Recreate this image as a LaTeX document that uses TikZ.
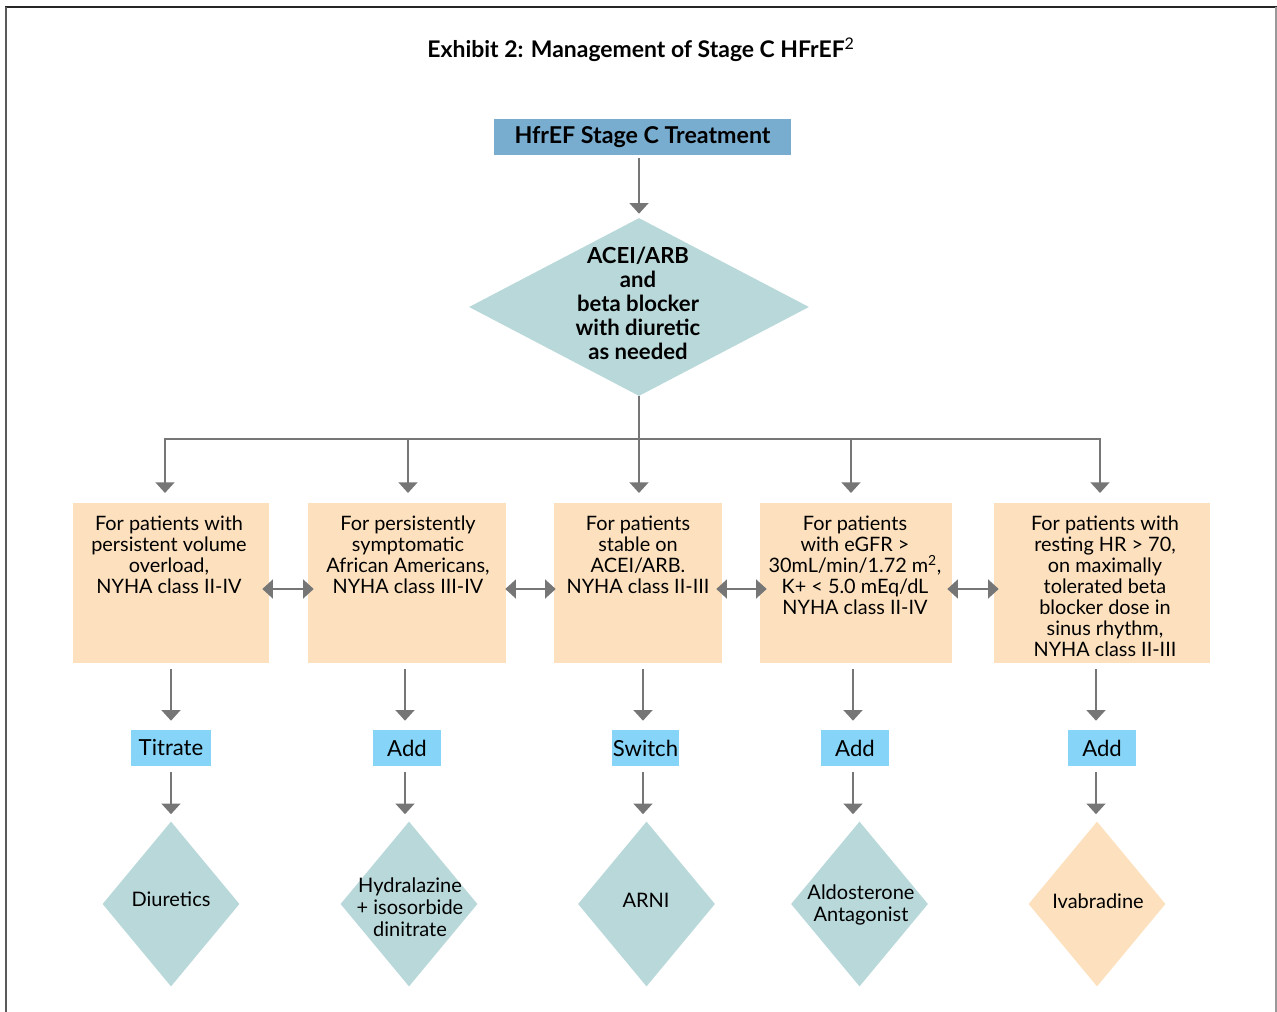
\documentclass[tikz,border=0pt]{standalone}
\usepackage{fontspec}
\setmainfont{Lato}
\usetikzlibrary{shapes.geometric,arrows.meta,calc}
\definecolor{headblue}{HTML}{79ADD0}
\definecolor{teal}{HTML}{B9D8DA}
\definecolor{peach}{HTML}{FDE1BF}
\definecolor{tagblue}{HTML}{86D4F7}
\definecolor{conngray}{HTML}{767676}
\begin{document}
\begin{tikzpicture}[x=0.75pt,y=-0.75pt,
  head/.style={rectangle,fill=headblue,inner sep=0,minimum width=222.75pt,minimum height=27pt,
    font=\fontsize{17.4}{20}\selectfont\bfseries},
  choice/.style={diamond,fill=teal,inner sep=0},
  cond/.style={rectangle,fill=peach,inner sep=0,minimum height=120pt},
  condtext/.style={anchor=north,align=center,inner sep=0,font=\fontsize{14.9}{15.75}\selectfont},
  tag/.style={rectangle,fill=tagblue,inner sep=0,minimum height=27pt,font=\fontsize{16.6}{18}\selectfont},
  drug/.style={diamond,inner sep=0,minimum width=102.75pt,minimum height=123.75pt},
  drugtext/.style={align=center,inner sep=0,font=\fontsize{15}{16.5}\selectfont},
  arr/.style={draw=conngray,line width=2pt,-{Triangle[width=14pt,length=8pt]}},
  dbl/.style={draw=conngray,line width=2pt,{Triangle[width=14pt,length=8pt]}-{Triangle[width=14pt,length=8pt]}},
  conn/.style={draw=conngray,line width=2pt}
]
\useasboundingbox (0,0) rectangle (1277,1012);
% page frame
\draw[draw=black!85,line width=1.5pt] (5,7) -- (1277,7);
\draw[draw=black!65,line width=1.5pt] (6,7) -- (6,1012);
\draw[draw=black!40,line width=0.8pt] (1276,7) -- (1276,1012);

% title
\node[font=\fontsize{17.2}{20}\selectfont\bfseries] (title) at (641,50)
  {Exhibit 2: Management of Stage C HFrEF{\mdseries\textsuperscript{2}}};

% start and first decision
\node[head] (start) at (642.5,137) {HfrEF Stage C Treatment};
\node[choice,minimum width=255pt,minimum height=133.5pt] (d0) at (639,307) {};
\node[align=center,inner sep=0,font=\fontsize{16.6}{18}\selectfont\bfseries] (d0t) at (638,303)
  {ACEI/ARB\\and\\beta blocker\\with diuretic\\as needed};
\draw[arr,shorten <=2pt,shorten >=3pt] (start.south -| d0.north) -- (d0.north);

% patient groups
\node[cond,minimum width=147pt]   (b1) at (171,583) {};
\node[cond,minimum width=148.5pt] (b2) at (407,583) {};
\node[cond,minimum width=126pt]   (b3) at (638,583) {};
\node[cond,minimum width=144pt]   (b4) at (856,583) {};
\node[cond,minimum width=162pt]   (b5) at (1102,583) {};
\node[condtext] (b1t) at (169,516) {For patients with\\persistent volume\\overload,\\NYHA class II-IV};
\node[condtext] (b2t) at (408,516) {For persistently\\symptomatic\\African Americans,\\NYHA class III-IV};
\node[condtext] (b3t) at (638,516) {For patients\\stable on\\ACEI/ARB.\\NYHA class II-III};
\node[condtext] (b4t) at (855,516) {For patients\\with eGFR >\\30mL/min/1.72 m\textsuperscript{2},\\K+ < 5.0 mEq/dL\\NYHA class II-IV};
\node[condtext] (b5t) at (1105,516) {For patients with\\resting HR > 70,\\on maximally\\tolerated beta\\blocker dose in\\sinus rhythm,\\NYHA class II-III};

% branching from the first decision
\coordinate (hub) at (639,439);
\coordinate (t1) at (165,493);
\coordinate (t2) at (408,493);
\coordinate (t3) at (639,493);
\coordinate (t4) at (851,493);
\coordinate (t5) at (1100,493);
\draw[conn] (d0.south) -- (hub);
\draw[arr] (hub) -| (t1);
\draw[arr] (hub) -| (t2);
\draw[arr] (hub) -- (t3);
\draw[arr] (hub) -| (t4);
\draw[arr] (hub) -| (t5);

% links between neighbouring groups
\draw[dbl] ($(b1.east)+(-7,6)$) -- ($(b2.west)+(6,6)$);
\draw[dbl] ($(b2.east)+(-1,6)$) -- ($(b3.west)+(2,6)$);
\draw[dbl] ($(b3.east)+(-6,6)$) -- ($(b4.west)+(7,6)$);
\draw[dbl] ($(b4.east)+(-5,6)$) -- ($(b5.west)+(5,6)$);

% actions
\node[tag,minimum width=60pt]    (a1) at (171,748) {Titrate};
\node[tag,minimum width=51pt]    (a2) at (407,748) {Add};
\node[tag,minimum width=50.25pt] (a3) at (645.5,748) {Switch};
\node[tag,minimum width=51pt]    (a4) at (855,748) {Add};
\node[tag,minimum width=51pt]    (a5) at (1102,748) {Add};

% medications
\node[drug,fill=teal]  (m1) at (171,904) {};
\node[drug,fill=teal]  (m2) at (409,904) {};
\node[drug,fill=teal]  (m3) at (646.5,904) {};
\node[drug,fill=teal]  (m4) at (859.5,904) {};
\node[drug,fill=peach] (m5) at (1097,904) {};
\node[drugtext] (m1t) at (171,899) {Diuretics};
\node[drugtext] (m2t) at (410,907) {Hydralazine\\+ isosorbide\\dinitrate};
\node[drugtext] (m3t) at (646,900) {ARNI};
\node[drugtext] (m4t) at (861,905) {Aldosterone\\Antagonist};
\node[drugtext] (m5t) at (1098,901) {Ivabradine};

% group -> action -> medication, each column with its own small offset
\foreach \i/\dx in {1/0,2/-2,3/-2.5,4/-2,5/-6}{
  \draw[arr,shorten <=4.5pt,shorten >=6.75pt]
    ([xshift=\dx*0.75pt]b\i.south -| a\i.north) -- ([xshift=\dx*0.75pt]a\i.north);
  \draw[arr,shorten <=4.5pt,shorten >=5.25pt]
    ([xshift=\dx*0.75pt]a\i.south) -- ([xshift=\dx*0.75pt]m\i.north -| a\i.south);
}
\end{tikzpicture}
\end{document}
